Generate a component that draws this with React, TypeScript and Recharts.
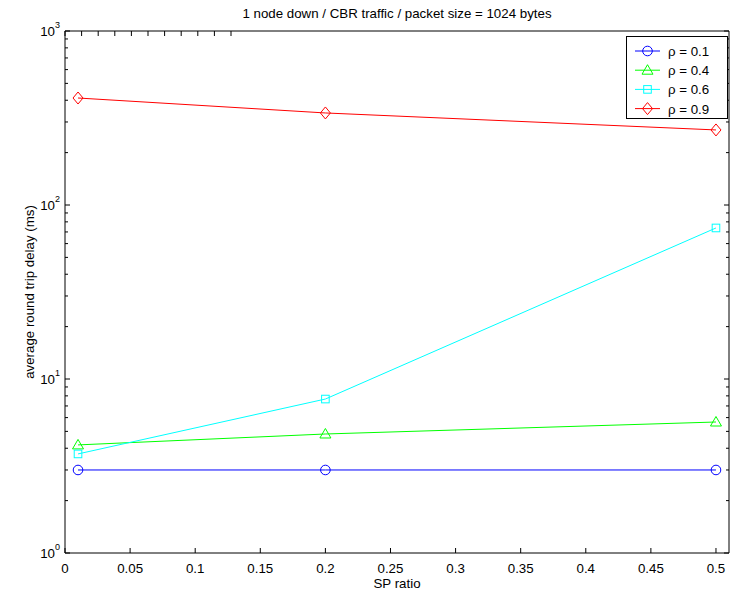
import React from 'react';
import { LineChart, Line, XAxis, YAxis, Legend } from 'recharts';

// ---- data ----
const spRatio = [0.01, 0.2, 0.5];
const rho01 = [3.0, 3.0, 3.0];
const rho04 = [4.18, 4.83, 5.66];
const rho06 = [3.71, 7.67, 73.8];
const rho09 = [412, 338, 270];

const seriesNames = ['ρ = 0.1', 'ρ = 0.4', 'ρ = 0.6', 'ρ = 0.9'];
const seriesKeys = ['r01', 'r04', 'r06', 'r09'];

const xTicks = [0, 0.05, 0.1, 0.15, 0.2, 0.25, 0.3, 0.35, 0.4, 0.45, 0.5];
const xTickLabels = ['0', '0.05', '0.1', '0.15', '0.2', '0.25', '0.3', '0.35', '0.4', '0.45', '0.5'];
const yMajor = [1, 10, 100, 1000];
const yMajorExp = ['0', '1', '2', '3'];
const yTicks = [
  1, 2, 3, 4, 5, 6, 7, 8, 9,
  10, 20, 30, 40, 50, 60, 70, 80, 90,
  100, 200, 300, 400, 500, 600, 700, 800, 900,
  1000,
];

const titleText = '1 node down / CBR traffic / packet size = 1024 bytes';
const xLabelText = 'SP ratio';
const yLabelText = 'average round trip delay (ms)';

const data = spRatio.map((x, i) => ({
  x,
  r01: rho01[i],
  r04: rho04[i],
  r06: rho06[i],
  r09: rho09[i],
}));

// ---- styles ----
const FONT = '"Liberation Sans", Arial, Helvetica, sans-serif';
const FS = 13.3;
const colors = ['#0000ff', '#00ff00', '#00ffff', '#ff0000'];
const shapes = ['circle', 'triangle', 'square', 'diamond'];

const W = 738;
const H = 594;

function Marker({ cx, cy, shape, color }: any) {
  if (cx == null || cy == null) return null;
  if (shape === 'circle') {
    return <circle cx={cx} cy={cy} r={4.8} fill="none" stroke={color} strokeWidth={1} />;
  }
  if (shape === 'triangle') {
    return (
      <polygon
        points={`${cx},${cy - 5.5} ${cx - 5.5},${cy + 4} ${cx + 5.5},${cy + 4}`}
        fill="none"
        stroke={color}
        strokeWidth={1}
      />
    );
  }
  if (shape === 'square') {
    return <rect x={cx - 3.8} y={cy - 3.8} width={7.6} height={7.6} fill="none" stroke={color} strokeWidth={1} />;
  }
  return (
    <polygon
      points={`${cx},${cy - 6} ${cx + 5},${cy} ${cx},${cy + 6} ${cx - 5},${cy}`}
      fill="none"
      stroke={color}
      strokeWidth={1}
    />
  );
}

function nearestIndex(arr: number[], v: number) {
  let best = 0;
  for (let i = 0; i < arr.length; i++) {
    if (Math.abs(arr[i] - v) < Math.abs(arr[best] - v)) best = i;
  }
  return best;
}

function majorIndex(v: number) {
  for (let i = 0; i < yMajor.length; i++) {
    if (Math.abs(yMajor[i] - v) < 1e-6 * yMajor[i]) return i;
  }
  return -1;
}

const BottomTick = (props: any) => {
  const { x, y, payload } = props;
  const i = nearestIndex(xTicks, payload.value);
  return (
    <g>
      <line x1={x} y1={y} x2={x} y2={y - 5} stroke="#000" strokeWidth={1} />
      <text x={x} y={y + 20} textAnchor="middle" fontSize={FS} fontFamily={FONT} fill="#000">
        {xTickLabels[i]}
      </text>
    </g>
  );
};

const TopTick = (props: any) => {
  const { x, y } = props;
  return <line x1={x} y1={y} x2={x} y2={y + 5} stroke="#000" strokeWidth={1} />;
};

const LeftTick = (props: any) => {
  const { x, y, payload } = props;
  const mi = majorIndex(payload.value);
  const len = mi >= 0 ? 5 : 3;
  return (
    <g>
      <line x1={x} y1={y} x2={x + len} y2={y} stroke="#000" strokeWidth={1} />
      {mi >= 0 && (
        <text x={x - 5} y={y + 5} textAnchor="end" fontSize={FS} fontFamily={FONT} fill="#000">
          <tspan>10</tspan>
          <tspan dy={-8.5} fontSize={9}>
            {yMajorExp[mi]}
          </tspan>
        </text>
      )}
    </g>
  );
};

const RightTick = (props: any) => {
  const { x, y, payload } = props;
  const mi = majorIndex(payload.value);
  const len = mi >= 0 ? 5 : 3;
  return <line x1={x} y1={y} x2={x - len} y2={y} stroke="#000" strokeWidth={1} />;
};

const LegendBox = () => {
  const w = 102;
  const h = 83;
  return (
    <svg width={w} height={h} style={{ display: 'block', overflow: 'visible' }}>
      <rect x={0.5} y={0.5} width={w - 1} height={h - 1} fill="#fff" stroke="#000" strokeWidth={1} />
      {seriesNames.map((name, i) => {
        const cy = 15 + i * 19.2;
        return (
          <g key={name}>
            <line x1={9} y1={cy} x2={34} y2={cy} stroke={colors[i]} strokeWidth={1} />
            <Marker cx={21.5} cy={cy} shape={shapes[i]} color={colors[i]} />
            <text x={42} y={cy + 5} fontSize={FS} fontFamily={FONT} fill="#000">
              {name}
            </text>
          </g>
        );
      })}
    </svg>
  );
};

export default function App() {
  return (
    <div style={{ position: 'absolute', left: 0, top: 0, width: W, height: H, background: '#fff' }}>
      <LineChart
        width={W}
        height={H}
        data={data}
        margin={{ top: 26, right: 4, bottom: 11, left: 15 }}
      >
        <XAxis
          xAxisId="bottom"
          dataKey="x"
          type="number"
          domain={[0, 0.51]}
          ticks={xTicks}
          interval={0}
          height={30}
          tickSize={0}
          tickMargin={0}
          tickLine={false}
          axisLine={{ stroke: '#000', strokeWidth: 1 }}
          tick={BottomTick}
          allowDataOverflow
          label={{
            content: () => (
              <text x={397} y={588} textAnchor="middle" fontSize={FS} fontFamily={FONT} fill="#000">
                {xLabelText}
              </text>
            ),
          }}
        />
        <XAxis
          xAxisId="top"
          orientation="top"
          type="number"
          domain={[0, 0.51]}
          ticks={xTicks}
          interval={0}
          height={5}
          tickSize={0}
          tickMargin={0}
          tickLine={false}
          axisLine={{ stroke: '#000', strokeWidth: 1 }}
          tick={TopTick}
          allowDataOverflow
          label={{
            content: () => (
              <text x={397} y={17.5} textAnchor="middle" fontSize={FS} fontFamily={FONT} fill="#000">
                {titleText}
              </text>
            ),
          }}
        />
        <YAxis
          yAxisId="left"
          type="number"
          scale="log"
          domain={[1, 1000]}
          ticks={yTicks}
          interval={0}
          width={50}
          tickSize={0}
          tickMargin={0}
          tickLine={false}
          axisLine={{ stroke: '#000', strokeWidth: 1 }}
          tick={LeftTick}
          allowDataOverflow
          label={{
            content: () => (
              <text
                x={29}
                y={292}
                textAnchor="middle"
                dominantBaseline="central"
                transform="rotate(-90 29 292)"
                fontSize={FS}
                fontFamily={FONT}
                fill="#000"
              >
                {yLabelText}
              </text>
            ),
          }}
        />
        <YAxis
          yAxisId="right"
          orientation="right"
          type="number"
          scale="log"
          domain={[1, 1000]}
          ticks={yTicks}
          interval={0}
          width={5}
          tickSize={0}
          tickMargin={0}
          tickLine={false}
          axisLine={{ stroke: '#000', strokeWidth: 1 }}
          tick={RightTick}
          allowDataOverflow
        />
        <Legend
          layout="horizontal"
          verticalAlign="middle"
          align="center"
          content={() => <LegendBox />}
          wrapperStyle={{ left: 626, top: 36, right: 'auto', bottom: 'auto', width: 102, height: 83 }}
        />
        {seriesKeys.map((k, i) => (
          <Line
            key={k}
            xAxisId="bottom"
            yAxisId="left"
            type="linear"
            dataKey={k}
            name={seriesNames[i]}
            stroke={colors[i]}
            strokeWidth={1}
            isAnimationActive={false}
            dot={(p: any) => <Marker key={`${k}-${p.index}`} cx={p.cx} cy={p.cy} shape={shapes[i]} color={colors[i]} />}
            activeDot={false}
          />
        ))}
      </LineChart>
    </div>
  );
}
